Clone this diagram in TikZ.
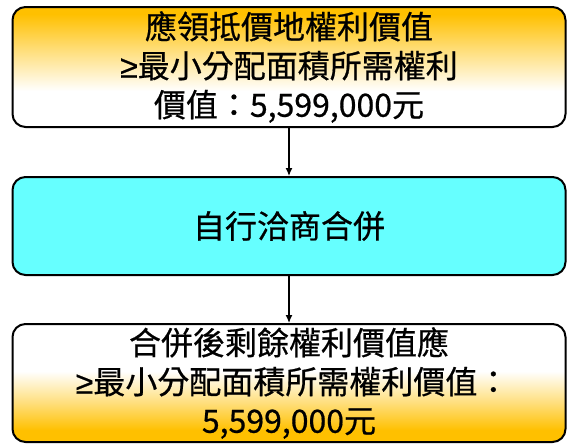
\documentclass[tikz,border=0pt]{standalone}
\usepackage{fontspec}
\setmainfont{Noto Sans CJK TC}[UprightFeatures={FakeBold=0.6}]
\newfontfamily\geqfont{Liberation Sans}[FakeBold=0.6]
\newcommand{\mygeq}{{\geqfont ≥}}
\usetikzlibrary{arrows.meta}
\definecolor{boxgold}{HTML}{FFC000}
\definecolor{boxcyan}{HTML}{66FFFF}
\pgfdeclareverticalshading{goldtop}{100bp}{color(0bp)=(white); color(25bp)=(white); color(40bp)=(white); color(58bp)=(boxgold!55); color(72bp)=(boxgold); color(100bp)=(boxgold)}
\pgfdeclareverticalshading{goldbottom}{100bp}{color(0bp)=(boxgold); color(25bp)=(boxgold); color(30bp)=(boxgold); color(42bp)=(boxgold!50); color(55bp)=(white); color(100bp)=(white)}
\tikzset{
  flowbox/.style={draw=black, line width=2pt, rounded corners=13pt, minimum width=553pt, inner sep=0pt, align=center, font=\fontsize{32pt}{39pt}\selectfont},
  flowarrow/.style={-{Latex[length=8pt,width=7pt]}, line width=1.2pt, draw=black}
}
\begin{document}
\begin{tikzpicture}[x=1pt,y=-1pt]
\useasboundingbox (0,0) rectangle (570,445);
\node[flowbox, shading=goldtop, minimum height=120pt] (b1) at (289,67)
  {應領抵價地權利價值\\\mygeq 最小分配面積所需權利\\價值：5,599,000元};
\node[flowbox, fill=boxcyan, minimum height=98pt] (b2) at (289,226) {自行洽商合併};
\node[flowbox, shading=goldbottom, minimum height=118pt] (b3) at (289,383)
  {合併後剩餘權利價值應\\\ \mygeq 最小分配面積所需權利價值：\\5,599,000元};
\draw[flowarrow] (b1) -- (b2);
\draw[flowarrow] (b2) -- (b3);
\end{tikzpicture}
\end{document}
